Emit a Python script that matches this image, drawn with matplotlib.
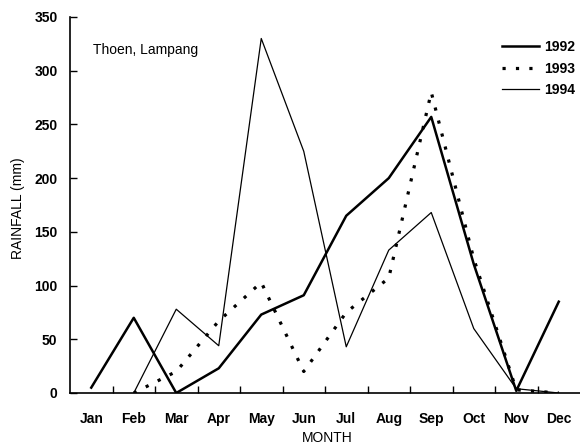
import numpy as np
import matplotlib.pyplot as plt

months = ["Jan", "Feb", "Mar", "Apr", "May", "Jun",
          "Jul", "Aug", "Sep", "Oct", "Nov", "Dec"]

# rainfall (mm)
rain_1992 = [5, 70, 0, 23, 73, 91, 165, 200, 257, 120, 2, 85]
rain_1993 = [None, 0, 20, 67, 103, 20, 75, 107, 280, 125, 3, 0]
rain_1994 = [None, 0, 78, 44, 330, 225, 43, 133, 168, 60, 4, 0]

x = np.arange(len(months))


def series(vals):
    return np.array([np.nan if v is None else v for v in vals], dtype=float)


plt.rcParams['font.family'] = ['Liberation Sans', 'DejaVu Sans']

fig = plt.figure(figsize=(5.8, 4.46), dpi=100)
ax = fig.add_axes([70 / 580, 1 - 393 / 446, 510 / 580, 376 / 446])

ax.plot(x, series(rain_1992), color='black', lw=1.8, label='1992')
ax.plot(x, series(rain_1993), color='black', lw=2.3,
        linestyle=(0, (1, 3.2)), label='1993')
ax.plot(x, series(rain_1994), color='black', lw=0.9, label='1994')

ax.set_xlim(-0.5, 11.5)
ax.set_ylim(0, 350)
ax.spines['top'].set_visible(False)
ax.spines['right'].set_visible(False)
for s in ['left', 'bottom']:
    ax.spines[s].set_linewidth(1.2)

# month names centred between the small inward ticks
ax.set_xticks(x)
ax.set_xticklabels(months, fontweight='bold', fontsize=10)
ax.set_xticks(np.arange(0.5, 11.5, 1), minor=True)
ax.tick_params(axis='x', which='major', length=0, pad=14)
ax.tick_params(axis='x', which='minor', direction='in', length=5, width=1)

ax.set_yticks(np.arange(0, 351, 50))
ax.tick_params(axis='y', direction='in', length=5, width=1, pad=9)
for lab in ax.get_yticklabels():
    lab.set_fontweight('bold')
    lab.set_fontsize(10)

fig.text(18 / 580, 1 - 208 / 446, 'RAINFALL (mm)', rotation=90,
         ha='center', va='center', fontsize=10)
fig.text(327 / 580, 1 - 438 / 446, 'MONTH', ha='center', va='center', fontsize=10)
fig.text(93 / 580, 1 - 50 / 446, 'Thoen, Lampang', ha='left', va='center', fontsize=10)

ax.legend(loc='upper left', bbox_to_anchor=(502 / 580, 1 - 40 / 446),
          bbox_transform=fig.transFigure, frameon=False, borderpad=0,
          borderaxespad=0, handlelength=2.65, handletextpad=0.35,
          labelspacing=0.55, prop={'weight': 'bold', 'size': 10})

fig.savefig('out.png', dpi=100)
